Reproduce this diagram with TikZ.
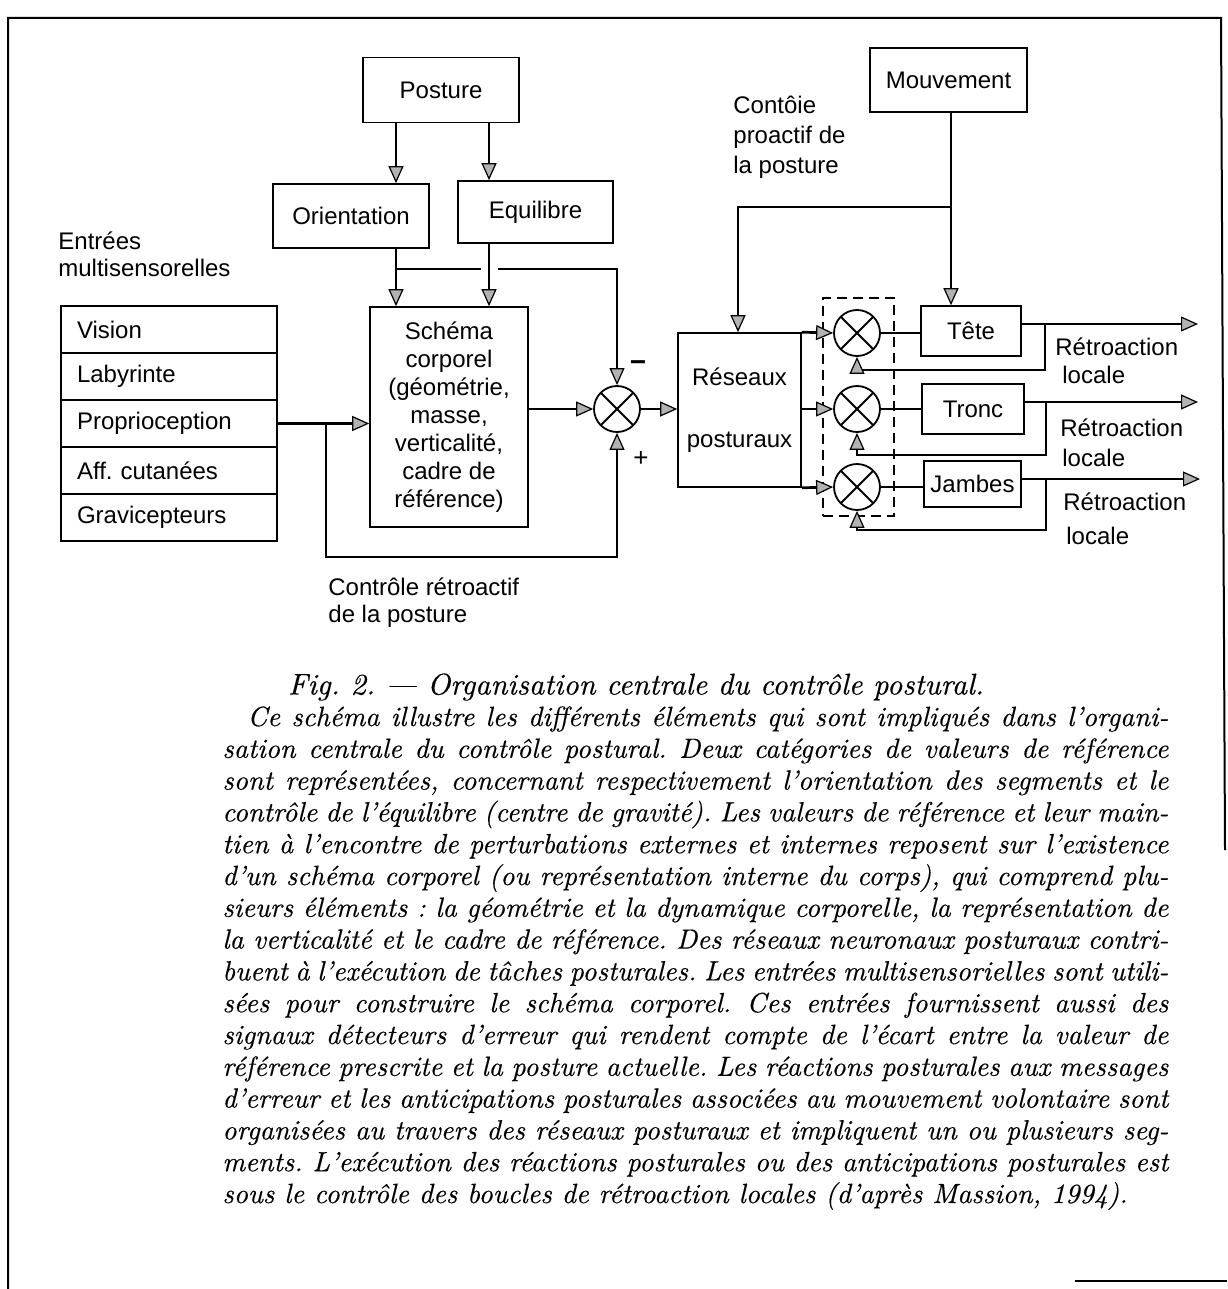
\documentclass[tikz,border=0pt]{standalone}
\usepackage{fontspec}
\newfontfamily\diagfont{Liberation Sans}
\newfontfamily\capfont{lmroman10-italic.otf}[FakeBold=0.4,Ligatures=TeX]
\usetikzlibrary{arrows.meta,calc}
\begin{document}
\begin{tikzpicture}[x=0.5pt,y=-0.5pt,
  box/.style={draw,line width=0.8pt,font=\diagfont\fontsize{12}{14}\selectfont,inner sep=0pt},
  conn/.style={line width=1.35pt},
  arr/.style={conn,-{Triangle[length=8.5pt,width=7.5pt,line width=0.6pt,fill=gray!60]}},
  sumj/.style={circle,draw,line width=0.9pt,minimum size=23pt,inner sep=0pt,
    path picture={\draw[line width=0.9pt] (path picture bounding box.south west)--(path picture bounding box.north east)
      (path picture bounding box.north west)--(path picture bounding box.south east);}},
  lbl/.style={font=\diagfont\fontsize{12}{13.5}\selectfont,inner sep=0pt,align=left},
  row/.style={box,minimum height=23.5pt,text width=92pt,inner xsep=8pt,align=left}
]
\useasboundingbox (0,0) rectangle (1227,1289);
% frame
\draw[line width=1pt] (8,1289) -- (8,18) -- (1221,18) -- (1225,850);
\draw[line width=1.2pt] (1075,1281) -- (1227,1281);

% left part
\node[box,minimum width=78pt,minimum height=32.5pt] (posture) at (441,90) {Posture};
\node[box,minimum width=78pt,minimum height=32pt] (orient) at (351,216) {Orientation};
\node[box,minimum width=77.5pt,minimum height=31pt] (equil) at (535.5,212) {Equilibre};
\node[box,minimum width=79pt,minimum height=110pt,align=center] (schema) at (449,417)
  {Schéma\\corporel\\(géométrie,\\masse,\\verticalité,\\cadre de\\référence)};

\node[lbl,anchor=west] (entrees) at (58,254) {Entrées\\multisensorelles};
\node[row] (vision) at (169,329.5) {Vision};
\node[row] (laby) at (169,376.5) {Labyrinte};
\node[row] (propr) at (169,423.5) {Proprioception};
\node[row] (aff) at (169,470.5) {Aff.\ cutanées};
\node[row] (grav) at (169,517.5) {Gravicepteurs};

\node[sumj] (j1) at (617,409) {};
\node[lbl,font=\diagfont\bfseries\fontsize{14}{14}\selectfont] (minus) at (638,366) {−};
\node[lbl,font=\diagfont\fontsize{13}{14}\selectfont] (plus) at (641,459) {+};

\node[lbl,anchor=west] (retro) at (328,603) {Contrôle rétroactif\\de la posture};

\coordinate (xa) at (396,0);
\coordinate (xb) at (489,0);
\draw[arr] (posture.south -| xa) -- (orient.north -| xa);
\draw[arr] (posture.south -| xb) -- (equil.north -| xb);
\draw[arr] (orient.south -| xa) -- (schema.north -| xa);
\draw[arr] (equil.south -| xb) -- (schema.north -| xb);
\coordinate (m0) at (396,269);
\coordinate (m1) at (481,269);
\coordinate (m2) at (498,269);
\draw[conn] (m0) -- (m1);
\draw[arr] (m2) -| (j1.north);

\draw[arr] (propr.east) -- (propr.east -| schema.west);
\coordinate (fb0) at (326,423.5);
\coordinate (fb1) at (326,557);
\draw[arr] (fb0) -- (fb1) -| (j1.south);
\draw[arr] (schema.east |- j1) -- (j1.west);

% right part
\node[box,minimum width=61.5pt,minimum height=77pt,align=center] (res) at (739.5,410)
  {Réseaux\\[17pt]posturaux};
\draw[arr] (j1.east) -- (j1.east -| res.west);

\node[box,minimum width=78.5pt,minimum height=32pt] (mouv) at (948.5,80) {Mouvement};
\node[lbl,anchor=west,font=\diagfont\fontsize{12}{15}\selectfont] (proact) at (733,137) {Contôie\\proactif de\\la posture};

\node[draw,dashed,line width=0.8pt,dash pattern=on 5pt off 3pt,minimum width=35.5pt,minimum height=109pt,inner sep=0pt] (grp) at (858.5,407) {};

\node[sumj] (ja) at (857,333) {};
\node[sumj] (jb) at (857,409) {};
\node[sumj] (jc) at (857,487) {};

\node[box,minimum width=50pt,minimum height=25pt] (tete) at (971,331) {Tête};
\node[box,minimum width=51pt,minimum height=25pt] (tronc) at (973,409) {Tronc};
\node[box,minimum width=48.5pt,minimum height=23pt] (jambes) at (972.5,484) {Jambes};

\coordinate (mv) at (951,207);
\coordinate (mvl) at (738,207);
\draw[arr] (mouv.south -| mv) -- (tete.north -| mv);
\draw[arr] (mv) -- (mvl) -- (res.north -| mvl);

\draw[arr] (res.north east) -- (ja.west);
\draw[arr] (res.east |- jb) -- (jb.west);
\draw[arr] (res.south east) -- (jc.west);

\draw[conn] (ja.east) -- (ja.east -| tete.west);
\draw[conn] (jb.east) -- (jb.east -| tronc.west);
\draw[conn] (jc.east) -- (jc.east -| jambes.west);

\coordinate (o1) at (1198,324);
\coordinate (o2) at (1198,402);
\coordinate (o3) at (1200,479);
\draw[arr] (tete.east |- o1) -- (o1);
\draw[arr] (tronc.east |- o2) -- (o2);
\draw[arr] (jambes.east |- o3) -- (o3);

\coordinate (f1) at (1045,324);
\coordinate (g1) at (1045,370);
\coordinate (f2) at (1046,402);
\coordinate (g2) at (1046,455);
\coordinate (f3) at (1046,479);
\coordinate (g3) at (1046,530);
\draw[arr] (f1) -- (g1) -| (ja.south);
\draw[arr] (f2) -- (g2) -| (jb.south);
\draw[arr] (f3) -- (g3) -| (jc.south);

\node[lbl,anchor=west] (r1a) at (1055,347) {Rétroaction};
\node[lbl,anchor=west] (r1b) at (1062,375) {locale};
\node[lbl,anchor=west] (r2a) at (1060,428) {Rétroaction};
\node[lbl,anchor=west] (r2b) at (1062,458) {locale};
\node[lbl,anchor=west] (r3a) at (1063,502) {Rétroaction};
\node[lbl,anchor=west] (r3b) at (1066,536) {locale};

% caption
\node[font=\capfont\fontsize{15}{16}\selectfont,inner sep=0pt] (figt) at (636,687)
  {\frenchspacing Fig. 2. --- Organisation centrale du contrôle postural.};
\node[anchor=north west,inner sep=0pt,text width=473pt,align=justify,
  font=\capfont\fontsize{13.9}{15.9}\selectfont] (capt) at (222,706)
  {\tolerance=10000\hyphenpenalty=10000\frenchspacing
  \hspace*{12.5pt}Ce schéma illustre les différents éléments qui sont impliqués dans l'organi-\linebreak
  sation centrale du contrôle postural. Deux catégories de valeurs de référence\linebreak
  sont représentées, concernant respectivement l'orientation des segments et le\linebreak
  contrôle de l'équilibre (centre de gravité). Les valeurs de référence et leur main-\linebreak
  tien à l'encontre de perturbations externes et internes reposent sur l'existence\linebreak
  d'un schéma corporel (ou représentation interne du corps), qui comprend plu-\linebreak
  sieurs éléments~: la géométrie et la dynamique corporelle, la représentation de\linebreak
  la verticalité et le cadre de référence. Des réseaux neuronaux posturaux contri-\linebreak
  buent à l'exécution de tâches posturales. Les entrées multisensorielles sont utili-\linebreak
  sées pour construire le schéma corporel. Ces entrées fournissent aussi des\linebreak
  signaux détecteurs d'erreur qui rendent compte de l'écart entre la valeur de\linebreak
  référence prescrite et la posture actuelle. Les réactions posturales aux messages\linebreak
  d'erreur et les anticipations posturales associées au mouvement volontaire sont\linebreak
  organisées au travers des réseaux posturaux et impliquent un ou plusieurs seg-\linebreak
  ments. L'exécution des réactions posturales ou des anticipations posturales est\linebreak
  sous le contrôle des boucles de rétroaction locales (d'après Massion, 1994).\par};
\end{tikzpicture}
\end{document}
